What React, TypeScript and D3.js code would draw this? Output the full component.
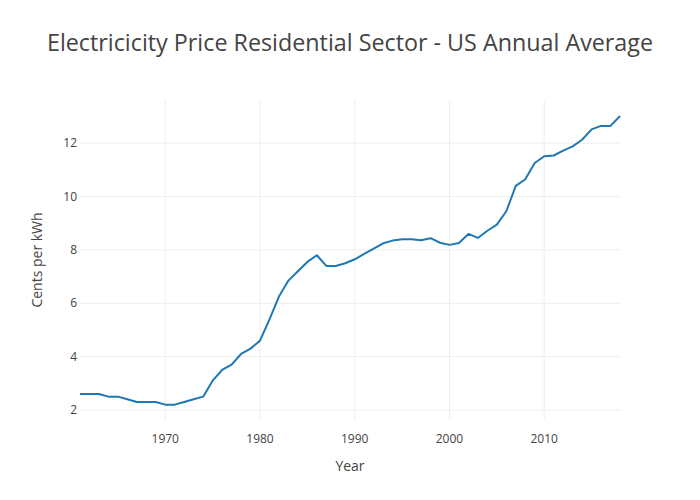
import * as d3 from 'd3';
import React from 'react';

const years = d3.range(1961, 2019);
const prices = [
  2.6, 2.6, 2.6, 2.5, 2.5, 2.4, 2.3, 2.3, 2.3, 2.2,
  2.2, 2.3, 2.4, 2.5, 3.1, 3.5, 3.7, 4.1, 4.3, 4.6,
  5.4, 6.25, 6.85, 7.2, 7.55, 7.8, 7.4, 7.4, 7.5, 7.65,
  7.85, 8.05, 8.25, 8.35, 8.4, 8.4, 8.36, 8.44, 8.27, 8.19,
  8.26, 8.6, 8.45, 8.72, 8.95, 9.45, 10.4, 10.65, 11.26, 11.51,
  11.54, 11.72, 11.88, 12.13, 12.52, 12.65, 12.65, 13.02,
];
const xTicks = [1970, 1980, 1990, 2000, 2010];
const yTicks = [2, 4, 6, 8, 10, 12];

const W = 700;
const H = 500;
const margin = { left: 80, right: 80, top: 100, bottom: 80 };
const font = '"Open Sans", sans-serif';

export default function App() {
  const x = d3
    .scaleLinear()
    .domain([1961, 2018])
    .range([margin.left, W - margin.right]);
  const y = d3
    .scaleLinear()
    .domain([1.625, 13.62])
    .range([H - margin.bottom, margin.top]);

  const data = years.map((yr, i) => ({ yr, v: prices[i] }));
  const line = d3
    .line<{ yr: number; v: number }>()
    .x((d) => x(d.yr))
    .y((d) => y(d.v));

  return (
    <svg
      width={W}
      height={H}
      style={{ position: 'absolute', left: 0, top: 0, background: '#fff' }}
    >
      <text
        x={W / 2}
        y={51}
        textAnchor="middle"
        fontFamily={font}
        fontSize={23.3}
        fill="#444"
      >
        Electricicity Price Residential Sector - US Annual Average
      </text>
      {xTicks.map((t) => (
        <line
          key={'gx' + t}
          x1={x(t)}
          x2={x(t)}
          y1={margin.top}
          y2={H - margin.bottom}
          stroke="#eee"
        />
      ))}
      {yTicks.map((t) => (
        <line
          key={'gy' + t}
          x1={margin.left}
          x2={W - margin.right}
          y1={y(t)}
          y2={y(t)}
          stroke="#eee"
        />
      ))}
      <path
        d={line(data) || ''}
        fill="none"
        stroke="#1f77b4"
        strokeWidth={2}
        strokeLinejoin="round"
      />
      {xTicks.map((t) => (
        <text
          key={'tx' + t}
          x={x(t)}
          y={H - margin.bottom + 14}
          dy="0.71em"
          textAnchor="middle"
          fontFamily={font}
          fontSize={12}
          fill="#444"
        >
          {t}
        </text>
      ))}
      {yTicks.map((t) => (
        <text
          key={'ty' + t}
          x={margin.left - 3}
          y={y(t)}
          dy="0.35em"
          textAnchor="end"
          fontFamily={font}
          fontSize={12}
          fill="#444"
        >
          {t}
        </text>
      ))}
      <text
        x={W / 2}
        y={471}
        textAnchor="middle"
        fontFamily={font}
        fontSize={14}
        fill="#444"
      >
        Year
      </text>
      <text
        transform={`translate(42,${(margin.top + H - margin.bottom) / 2}) rotate(-90)`}
        textAnchor="middle"
        fontFamily={font}
        fontSize={14}
        fill="#444"
      >
        Cents per kWh
      </text>
    </svg>
  );
}
